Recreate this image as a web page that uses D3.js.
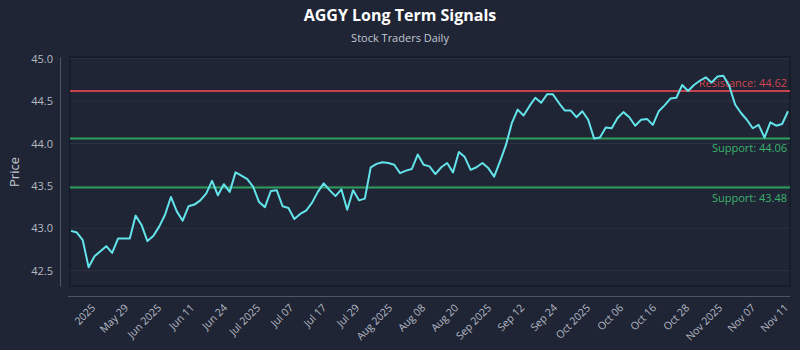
<!DOCTYPE html>
<html>
<head>
<meta charset="utf-8">
<script src="https://cdn.jsdelivr.net/npm/d3@7"></script>
<style>
  html, body { margin: 0; padding: 0; background: #1f2535; }
  svg { display: block; font-family: "Open Sans", "DejaVu Sans", sans-serif; }
</style>
</head>
<body>
<div id="chart"></div>
<script>
// closing prices, one per trading day
const closes = [
  42.97, 42.95, 42.86, 42.54, 42.67, 42.73, 42.79, 42.71, 42.88, 42.88,
  42.88, 43.15, 43.04, 42.85, 42.91, 43.02, 43.16, 43.37, 43.20, 43.09,
  43.26, 43.28, 43.33, 43.41, 43.56, 43.39, 43.52, 43.43, 43.66, 43.62,
  43.58, 43.49, 43.31, 43.25, 43.44, 43.45, 43.26, 43.24, 43.11, 43.17,
  43.21, 43.30, 43.43, 43.53, 43.45, 43.38, 43.46, 43.22, 43.45, 43.33,
  43.35, 43.72, 43.76, 43.78, 43.77, 43.75, 43.65, 43.68, 43.70, 43.87,
  43.75, 43.73, 43.64, 43.72, 43.77, 43.66, 43.90, 43.84, 43.69, 43.72,
  43.77, 43.71, 43.61, 43.79, 43.98, 44.24, 44.40, 44.33, 44.44, 44.54,
  44.48, 44.58, 44.58, 44.48, 44.39, 44.39, 44.31, 44.38, 44.28, 44.06,
  44.07, 44.19, 44.18, 44.30, 44.37, 44.31, 44.21, 44.28, 44.29, 44.22,
  44.38, 44.45, 44.53, 44.54, 44.69, 44.62, 44.69, 44.74, 44.78, 44.72,
  44.79, 44.80, 44.68, 44.46, 44.36, 44.28, 44.18, 44.22, 44.07, 44.25,
  44.21, 44.23, 44.38
];

const tickLabels = [
  "2025", "May 29", "Jun 2025", "Jun 11", "Jun 24", "Jul 2025", "Jul 07",
  "Jul 17", "Jul 29", "Aug 2025", "Aug 08", "Aug 20", "Sep 2025", "Sep 12",
  "Sep 24", "Oct 2025", "Oct 06", "Oct 16", "Oct 28", "Nov 2025", "Nov 07", "Nov 11"
];

const yTicks = [42.5, 43.0, 43.5, 44.0, 44.5, 45.0];

const levels = [
  { name: "Resistance", value: 44.62, color: "#c9434d", text: "#d0464f", above: true },
  { name: "Support", value: 44.06, color: "#2e9e5e", text: "#3bb26b", above: false },
  { name: "Support", value: 43.48, color: "#2e9e5e", text: "#3bb26b", above: false }
];

const width = 800;
const height = 350;
const plotLeft = 70, plotRight = 790, plotTop = 57, plotBottom = 286;

const svg = d3.select("#chart").append("svg")
  .attr("width", width)
  .attr("height", height);

svg.append("rect")
  .attr("width", width)
  .attr("height", height)
  .attr("fill", "#1f2535");

const x = d3.scaleLinear()
  .domain([0, closes.length - 1])
  .range([plotLeft + 1, plotRight - 2]);

const y = d3.scaleLinear()
  .domain([42.32, 45.02])
  .range([plotBottom, plotTop]);

const xTick = d3.scalePoint()
  .domain(tickLabels)
  .range([93, 786]);

// plot frame
svg.append("rect")
  .attr("x", plotLeft)
  .attr("y", plotTop)
  .attr("width", plotRight - plotLeft)
  .attr("height", plotBottom - plotTop)
  .attr("fill", "#1f2535")
  .attr("stroke", "#151a25")
  .attr("stroke-width", 1.5);

// grid
svg.append("g")
  .selectAll("line")
  .data(yTicks)
  .join("line")
  .attr("x1", plotLeft)
  .attr("x2", plotRight)
  .attr("y1", (d) => y(d))
  .attr("y2", (d) => y(d))
  .attr("stroke", "#2b3243")
  .attr("stroke-width", 1);

// y axis (offset spine)
const yAxis = svg.append("g")
  .attr("transform", `translate(60,0)`)
  .call(d3.axisLeft(y).tickValues(yTicks).tickFormat(d3.format(".1f")).tickSize(0).tickPadding(7));
yAxis.select(".domain").attr("stroke", "#4d5464");
yAxis.selectAll("text")
  .attr("fill", "#b4b9c3")
  .attr("font-size", 11)
  .attr("font-family", "Open Sans, sans-serif");

// x axis (offset spine)
const xAxis = svg.append("g")
  .attr("transform", `translate(0,296)`)
  .call(d3.axisBottom(xTick).tickSize(0));
xAxis.select(".domain")
  .attr("d", `M${plotLeft - 2},0.5H${plotRight}`)
  .attr("stroke", "#4d5464");
xAxis.selectAll("text")
  .attr("fill", "#b4b9c3")
  .attr("font-size", 10.5)
  .attr("font-family", "Open Sans, sans-serif")
  .attr("text-anchor", "end")
  .attr("dy", null)
  .attr("y", null)
  .attr("transform", "translate(0,10) rotate(-45)")
  .attr("dy", "0.35em");

svg.append("text")
  .text("Price")
  .attr("transform", "translate(19,172) rotate(-90)")
  .attr("text-anchor", "middle")
  .attr("fill", "#c3c8d1")
  .attr("font-size", 13);

// levels
const lv = svg.append("g");
lv.selectAll("line")
  .data(levels)
  .join("line")
  .attr("x1", plotLeft)
  .attr("x2", plotRight)
  .attr("y1", (d) => y(d.value))
  .attr("y2", (d) => y(d.value))
  .attr("stroke", (d) => d.color)
  .attr("stroke-width", 2);

// price line
svg.append("path")
  .datum(closes)
  .attr("fill", "none")
  .attr("stroke", "#63e3ea")
  .attr("stroke-width", 2)
  .attr("stroke-linejoin", "round")
  .attr("d", d3.line().x((d, i) => x(i)).y((d) => y(d)));

lv.selectAll("text")
  .data(levels)
  .join("text")
  .attr("x", 787)
  .attr("y", (d) => y(d.value) + (d.above ? -4 : 14))
  .attr("text-anchor", "end")
  .attr("font-size", 11)
  .attr("fill", (d) => d.text)
  .text((d) => `${d.name}: ${d.value.toFixed(2)}`);

// titles
svg.append("text")
  .text("AGGY Long Term Signals")
  .attr("x", 400)
  .attr("y", 21)
  .attr("text-anchor", "middle")
  .attr("font-weight", "bold")
  .attr("font-size", 16)
  .attr("fill", "#ffffff");

svg.append("text")
  .text("Stock Traders Daily")
  .attr("x", 400)
  .attr("y", 42)
  .attr("text-anchor", "middle")
  .attr("font-size", 11)
  .attr("fill", "#c3c8d1");
</script>
</body>
</html>
